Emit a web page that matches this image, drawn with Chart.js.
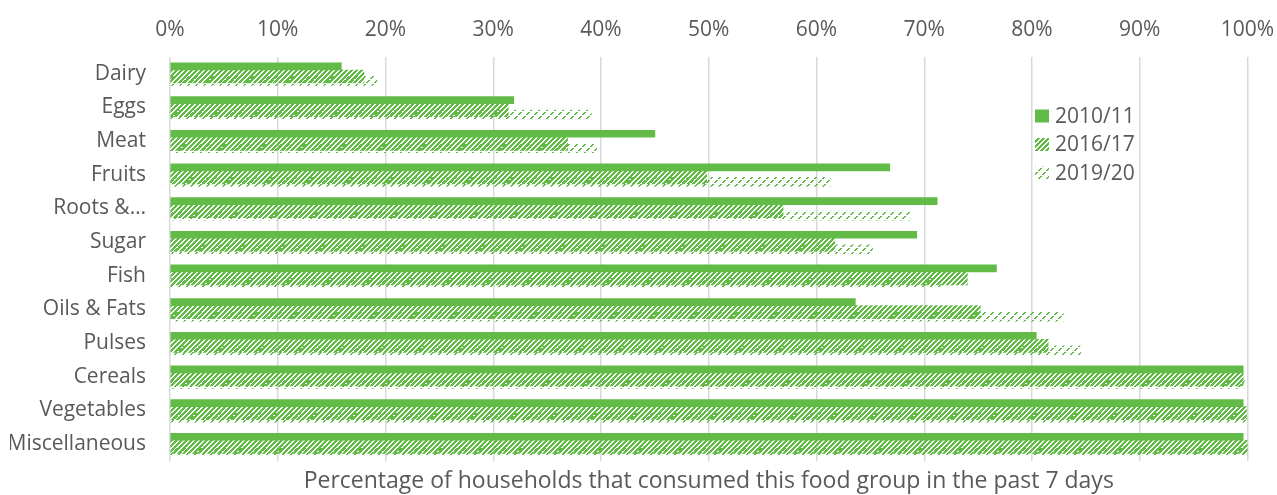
<!DOCTYPE html>
<html>
<head>
<meta charset="utf-8">
<script src="https://cdn.jsdelivr.net/npm/chart.js@4/dist/chart.umd.min.js"></script>
<style>
    html, body { margin: 0; padding: 0; background: #fff; }
    #wrap { position: relative; width: 1277px; height: 495px; }
</style>
</head>
<body>
<div id="wrap"><canvas id="foodChart"></canvas></div>
<script>
const foodGroups = ['Dairy', 'Eggs', 'Meat', 'Fruits', 'Roots &…', 'Sugar', 'Fish', 'Oils & Fats', 'Pulses', 'Cereals', 'Vegetables', 'Miscellaneous'];
const surveyRounds = ['2010/11', '2016/17', '2019/20'];

// % of households consuming each group in the last 7 days
const share2010 = [15.9, 31.9, 45.0, 66.8, 71.2, 69.3, 76.7, 63.6, 80.4, 99.6, 99.6, 99.6];
const share2016 = [18.0, 31.4, 36.9, 49.8, 56.9, 61.7, 74.0, 75.2, 81.5, 99.6, 99.9, 100];
const share2019 = [19.2, 39.1, 39.6, 61.3, 68.7, 65.2, 71.6, 82.9, 84.5, 99.7, 99.9, 100];

const green = '#62bb47';
const textGrey = '#595959';

// small tiled hatch patterns
function makePattern(size, test) {
    const c = document.createElement('canvas');
    c.width = size;
    c.height = size;
    const g = c.getContext('2d');
    g.fillStyle = green;
    for (let y = 0; y < size; y++) {
        for (let x = 0; x < size; x++) {
            if (test(x, y)) g.fillRect(x, y, 1, 1);
        }
    }
    return g.createPattern(c, 'repeat');
}

const wideDiagonal = makePattern(5, (x, y) => (x + y) % 5 < 3);
const dashedDiagonal = makePattern(8, (x, y) => (x + y) % 8 < 2 && y % 4 !== 3);

// bars sit at fixed offsets inside each category band
function placed(values, offset) {
    return values.map((v, i) => ({ x: v, y: i + offset }));
}

const insideLegend = {
    id: 'insideLegend',
    afterDraw(chart) {
        const { ctx } = chart;
        ctx.save();
        ctx.font = '21px "Open Sans", sans-serif';
        ctx.textBaseline = 'middle';
        ctx.textAlign = 'left';
        chart.data.datasets.forEach((ds, i) => {
            const cy = 116 + i * 28.5;
            ctx.fillStyle = ds.backgroundColor;
            ctx.fillRect(1035, cy - 6.5, 14, 13);
            ctx.fillStyle = textGrey;
            ctx.fillText(ds.label, 1055, cy + 1);
        });
        ctx.restore();
    }
};

Chart.defaults.font.family = '"Open Sans", sans-serif';
Chart.defaults.font.size = 21;
Chart.defaults.color = textGrey;

new Chart(document.getElementById('foodChart'), {
    type: 'bar',
    data: {
        datasets: [
            {
                label: surveyRounds[0],
                data: placed(share2010, -0.22),
                backgroundColor: green,
                barThickness: 7,
                grouped: false,
            },
            {
                label: surveyRounds[1],
                data: placed(share2016, 0.08),
                backgroundColor: wideDiagonal,
                barThickness: 13,
                grouped: false,
            },
            {
                label: surveyRounds[2],
                data: placed(share2019, 0.21),
                backgroundColor: dashedDiagonal,
                barThickness: 9,
                grouped: false,
            },
        ],
    },
    options: {
        indexAxis: 'y',
        responsive: true,
        maintainAspectRatio: false,
        animation: false,
        layout: { padding: { left: 10, right: 29.5, top: 0, bottom: 0 } },
        plugins: {
            legend: { display: false },
            tooltip: { enabled: false },
        },
        scales: {
            x: {
                type: 'linear',
                position: 'top',
                min: 0,
                max: 100,
                ticks: {
                    stepSize: 10,
                    padding: 14,
                    callback: (v) => `${v}%`,
                },
                grid: { color: '#d9d9d9', lineWidth: 1.5, drawTicks: false },
                border: { display: false },
                afterFit: (scale) => {
                    scale.height = 57;
                    scale.paddingLeft = 0;
                    scale.paddingRight = 0;
                },
            },
            xTitle: {
                type: 'linear',
                position: 'bottom',
                min: 0,
                max: 100,
                grid: { display: false },
                border: { display: false },
                ticks: { display: false },
                title: {
                    display: true,
                    text: 'Percentage of households that consumed this food group in the past 7 days',
                    font: { size: 23 },
                    padding: { top: 9, bottom: 0 },
                },
                afterFit: (scale) => { scale.height = 34; },
            },
            y: {
                type: 'linear',
                offset: false,
                min: -0.5,
                max: 11.5,
                reverse: true,
                afterBuildTicks: (scale) => {
                    scale.ticks = foodGroups.map((g, i) => ({ value: i }));
                },
                ticks: {
                    padding: 16,
                    callback: (v) => foodGroups[v],
                },
                grid: { display: false },
                border: { display: false },
                afterFit: (scale) => { scale.width = 160; },
            },
        },
    },
    plugins: [insideLegend],
});
</script>
</body>
</html>
